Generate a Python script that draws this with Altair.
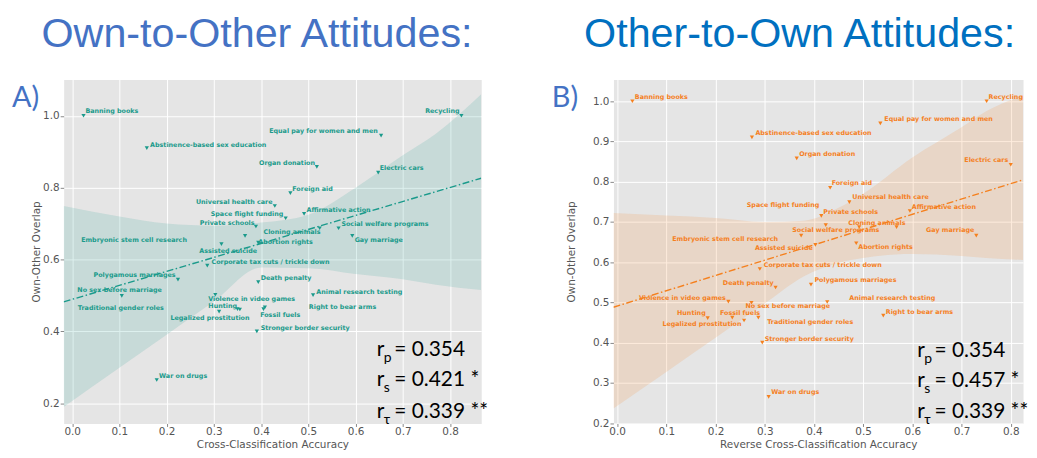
import altair as alt
import pandas as pd

topics = ["Banning books", "Recycling", "Equal pay for women and men",
          "Abstinence-based sex education", "Organ donation", "Electric cars",
          "Foreign aid", "Universal health care", "Space flight funding",
          "Affirmative action", "Private schools", "Cloning animals",
          "Social welfare programs", "Gay marriage", "Embryonic stem cell research",
          "Abortion rights", "Assisted suicide", "Corporate tax cuts / trickle down",
          "Polygamous marriages", "Death penalty", "No sex before marriage",
          "Animal research testing", "Traditional gender roles", "Violence in video games",
          "Hunting", "Right to bear arms", "Fossil fuels", "Legalized prostitution",
          "Stronger border security", "War on drugs"]

overlap = [1.0, 1.0, 0.945, 0.910, 0.858, 0.842, 0.785, 0.749, 0.715, 0.727,
           0.692, 0.687, 0.687, 0.666, 0.666, 0.647, 0.643, 0.583, 0.544, 0.537,
           0.499, 0.501, 0.462, 0.502, 0.461, 0.467, 0.462, 0.455, 0.400, 0.265]

acc_own = [0.024, 0.824, 0.654, 0.158, 0.518, 0.648, 0.462, 0.429, 0.452, 0.491,
           0.389, 0.524, 0.564, 0.593, 0.366, 0.394, 0.316, 0.286, 0.224, 0.394,
           0.105, 0.510, 0.350, 0.303, 0.355, 0.408, 0.405, 0.311, 0.391, 0.179]

acc_rev = [0.031, 0.751, 0.535, 0.274, 0.365, 0.800, 0.433, 0.472, 0.415, 0.595,
           0.424, 0.568, 0.492, 0.730, 0.374, 0.486, 0.403, 0.290, 0.394, 0.322,
           0.273, 0.427, 0.287, 0.226, 0.184, 0.541, 0.234, 0.258, 0.295, 0.308]

# label anchors (adjusted text positions), data units
lab_own_x = [0.028, 0.820, 0.647, 0.165, 0.514, 0.651, 0.466, 0.424, 0.447, 0.496,
             0.386, 0.405, 0.570, 0.598, 0.019, 0.394, 0.269, 0.295, 0.219, 0.399,
             0.011, 0.517, 0.012, 0.288, 0.349, 0.501, 0.398, 0.208, 0.399, 0.184]
lab_own_y = [1.012, 1.012, 0.957, 0.920, 0.869, 0.854, 0.797, 0.761, 0.727, 0.739,
             0.701, 0.676, 0.698, 0.655, 0.655, 0.648, 0.623, 0.593, 0.556, 0.549,
             0.514, 0.511, 0.465, 0.491, 0.471, 0.469, 0.447, 0.436, 0.410, 0.276]
lab_own_al = ["l", "r", "r", "l", "r", "l", "l", "r", "r", "l",
              "r", "l", "l", "l", "l", "l", "l", "l", "r", "l",
              "l", "l", "l", "l", "r", "l", "l", "l", "l", "l"]

lab_rev_x = [0.036, 0.755, 0.543, 0.281, 0.370, 0.795, 0.436, 0.478, 0.411, 0.599,
             0.419, 0.470, 0.356, 0.726, 0.327, 0.490, 0.280, 0.298, 0.401, 0.318,
             0.261, 0.472, 0.305, 0.221, 0.180, 0.546, 0.209, 0.092, 0.300, 0.313]
lab_rev_y = [1.011, 1.011, 0.955, 0.920, 0.868, 0.853, 0.797, 0.761, 0.741, 0.737,
             0.725, 0.698, 0.679, 0.679, 0.657, 0.638, 0.634, 0.594, 0.556, 0.549,
             0.491, 0.512, 0.452, 0.510, 0.473, 0.477, 0.473, 0.446, 0.410, 0.277]
lab_rev_al = ["l", "l", "l", "l", "l", "r", "l", "l", "r", "l",
              "l", "l", "l", "r", "r", "l", "l", "l", "l", "r",
              "l", "l", "l", "r", "r", "l", "l", "l", "l", "l"]

# bootstrapped confidence bands
band_own_x = [-0.018, 0.1, 0.2, 0.3, 0.4, 0.5, 0.6, 0.7, 0.77, 0.866]
band_own_lo = [0.19, 0.299, 0.391, 0.483, 0.578, 0.576, 0.56, 0.545, 0.53, 0.515]
band_own_hi = [0.749, 0.72, 0.70, 0.694, 0.703, 0.725, 0.80, 0.89, 0.95, 1.06]

band_rev_x = [-0.0075, 0.1, 0.2, 0.3, 0.38, 0.45, 0.5, 0.6, 0.7, 0.75, 0.841]
band_rev_lo = [0.236, 0.327, 0.412, 0.497, 0.565, 0.598, 0.61, 0.62, 0.615, 0.61, 0.605]
band_rev_hi = [0.722, 0.716, 0.71, 0.70, 0.703, 0.735, 0.77, 0.86, 0.935, 0.975, 1.02]

stat_subs = ["p", "s", "τ"]
stat_own = ["= 0.354", "= 0.421 *", "= 0.339 **"]
stat_rev = ["= 0.354", "= 0.457 *", "= 0.339 **"]

TEAL = "#1A9A8B"
ORANGE = "#F5801E"
XTICKS = [0.0, 0.1, 0.2, 0.3, 0.4, 0.5, 0.6, 0.7, 0.8]
PLOT_H = 346


def make_panel(xs, lab_x, lab_y, lab_al, bx, blo, bhi, svals, sx, ex, sy,
               color, xdom, ydom, yvals, xtitle, ytitle_x, title_text, title_color,
               title_x, title_size, letter, letter_x, width):
    df = pd.DataFrame({"topic": topics, "x": xs, "y": overlap,
                       "lx": lab_x, "ly": lab_y, "al": lab_al})
    bdf = pd.DataFrame({"x": bx, "lo": blo, "hi": bhi})
    sdf = pd.DataFrame({"main": ["r", "r", "r"], "sub": stat_subs, "val": svals,
                        "sx": [sx] * 3, "ex": [ex] * 3, "sy": sy})
    xsc = alt.Scale(domain=list(xdom), nice=False, zero=False)
    ysc = alt.Scale(domain=list(ydom), nice=False, zero=False)
    xa = alt.Axis(values=XTICKS, format=".1f", grid=True, gridColor="white", gridWidth=1,
                  domain=False, tickColor="#888", tickSize=3, labelPadding=0.5,
                  labelFontSize=10.5, labelColor="#555", labelFont="DejaVu Sans",
                  titleFont="DejaVu Sans", titleFontSize=10.5, titleFontWeight="normal",
                  titleColor="#555", titleY=21, titleBaseline="middle")
    ya = alt.Axis(values=yvals, format=".1f", grid=True, gridColor="white", gridWidth=1,
                  domain=False, tickColor="#888", tickSize=3.5, labelPadding=1,
                  labelFontSize=10.5, labelColor="#555", labelFont="DejaVu Sans",
                  titleFont="DejaVu Sans", titleFontSize=10.5, titleFontWeight="normal",
                  titleColor="#555", titleX=ytitle_x, titleBaseline="middle")

    def X(f):
        return alt.X(f"{f}:Q", scale=xsc, axis=xa, title=xtitle)

    def Y(f):
        return alt.Y(f"{f}:Q", scale=ysc, axis=ya, title="Own-Other Overlap")

    band = alt.Chart(bdf).mark_area(color=color, opacity=0.15, clip=True,
                                    interpolate="monotone").encode(
        x=X("x"), y=Y("lo"), y2="hi")
    line = alt.Chart(df).transform_regression("x", "y", extent=list(xdom)).mark_line(
        color=color, strokeWidth=1.4, strokeDash=[7, 2.5, 1.5, 2.5], clip=True).encode(
        x=X("x"), y=Y("y"))
    pts = alt.Chart(df).mark_point(shape="triangle-down", filled=True, size=18,
                                   color=color, opacity=1).encode(x=X("x"), y=Y("y"))
    txt = dict(baseline="middle", font="DejaVu Sans", fontWeight="bold",
               fontSize=6.4, color=color)
    lab_l = alt.Chart(df).transform_filter("datum.al == 'l'").mark_text(
        align="left", **txt).encode(x=X("lx"), y=Y("ly"), text="topic:N")
    lab_r = alt.Chart(df).transform_filter("datum.al == 'r'").mark_text(
        align="right", **txt).encode(x=X("lx"), y=Y("ly"), text="topic:N")
    s_main = alt.Chart(sdf).mark_text(align="left", baseline="middle", font="Lato",
                                      fontSize=21, color="black").encode(
        x=X("sx"), y=Y("sy"), text="main:N")
    s_sub = alt.Chart(sdf).mark_text(align="left", baseline="middle", font="Lato",
                                     fontSize=14, color="black", dx=7, dy=8).encode(
        x=X("sx"), y=Y("sy"), text="sub:N")
    s_val = alt.Chart(sdf).mark_text(align="left", baseline="middle", font="Lato",
                                     fontSize=21, color="black").encode(
        x=X("ex"), y=Y("sy"), text="val:N")
    one = pd.DataFrame({"t": [title_text], "l": [letter]})
    ttl = alt.Chart(one).mark_text(align="left", baseline="alphabetic",
                                   font="Liberation Sans", fontSize=title_size,
                                   color=title_color).encode(
        x=alt.value(title_x), y=alt.value(-32.4), text="t:N")
    let = alt.Chart(one).mark_text(align="left", baseline="alphabetic", font="Lato",
                                   fontSize=29, color="#4472C4").encode(
        x=alt.value(letter_x), y=alt.value(28), text="l:N")
    return alt.layer(band, line, pts, lab_l, lab_r, s_main, s_sub, s_val, ttl, let).properties(
        width=width, height=PLOT_H)


left = make_panel(acc_own, lab_own_x, lab_own_y, lab_own_al,
                  band_own_x, band_own_lo, band_own_hi,
                  stat_own, 0.645, 0.682, [0.348, 0.264, 0.177],
                  TEAL, (-0.018, 0.866), (0.144, 1.101), [0.2, 0.4, 0.6, 0.8, 1.0],
                  "Cross-Classification Accuracy", -27,
                  "Own-to-Other Attitudes:", "#4472C4", -22.3, 41.5, "A)", -52, 420)

right = make_panel(acc_rev, lab_rev_x, lab_rev_y, lab_rev_al,
                   band_rev_x, band_rev_lo, band_rev_hi,
                   stat_rev, 0.610, 0.645, [0.379, 0.305, 0.228],
                   ORANGE, (-0.0075, 0.825), (0.199, 1.054),
                   [0.2, 0.3, 0.4, 0.5, 0.6, 0.7, 0.8, 0.9, 1.0],
                   "Reverse Cross-Classification Accuracy", -42,
                   "Other-to-Own Attitudes:", "#0070C0", -29.5, 41.5, "B)", -62, 412)

chart = alt.hconcat(left, right, spacing=133, bounds="flush").properties(
    padding={"left": 4, "top": 4.6, "right": 0, "bottom": 0}
).configure_view(fill="#E5E5E5", strokeOpacity=0)

chart.save("out.html", embed_options={"renderer": "svg", "actions": False})
